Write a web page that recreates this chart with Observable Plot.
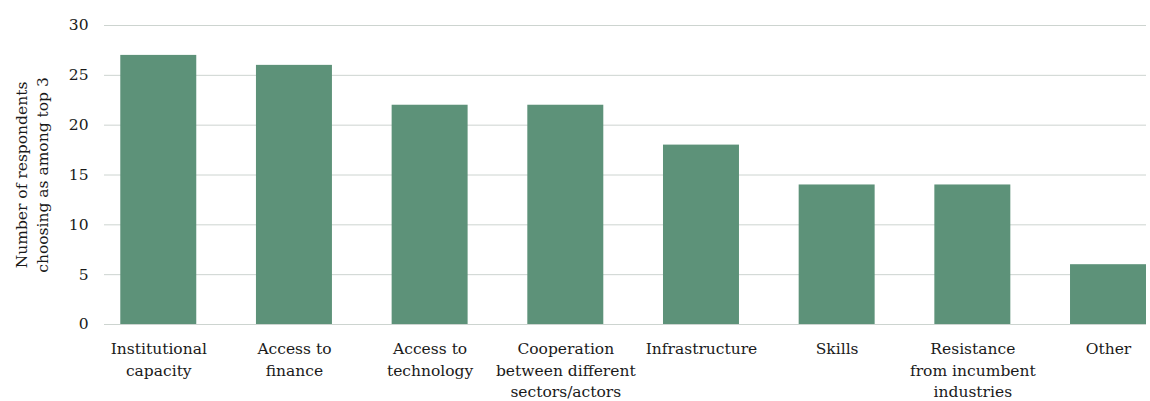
<!DOCTYPE html>
<html>
<head>
<meta charset="utf-8">
<script src="https://cdn.jsdelivr.net/npm/d3@7"></script>
<script src="https://cdn.jsdelivr.net/npm/@observablehq/plot@0.6"></script>
<style>
  html, body { margin: 0; padding: 0; background: #fff; }
  #chart svg { display: block; }
</style>
</head>
<body>
<div id="chart"></div>
<script>
const categories = [
  "Institutional capacity",
  "Access to finance",
  "Access to technology",
  "Cooperation between different sectors/actors",
  "Infrastructure",
  "Skills",
  "Resistance from incumbent industries",
  "Other"
];
const tickLabels = [
  "Institutional\ncapacity",
  "Access to\nfinance",
  "Access to\ntechnology",
  "Cooperation\nbetween different\nsectors/actors",
  "Infrastructure",
  "Skills",
  "Resistance\nfrom incumbent\nindustries",
  "Other"
];
const values = [27, 26, 22, 22, 18, 14, 14, 6];
const yTicks = [0, 5, 10, 15, 20, 25, 30];
const yLabel = "Number of respondents\nchoosing as among top 3";

const data = categories.map((c, i) => ({category: c, value: values[i]}));
const labelOf = new Map(categories.map((c, i) => [c, tickLabels[i]]));

const font = "'DejaVu Serif', serif";

const chart = Plot.plot({
  width: 1150,
  height: 401,
  marginTop: 25,
  marginBottom: 77,
  marginLeft: 104,
  marginRight: 4,
  style: {fontFamily: font, fontSize: "15px", color: "#1a1a1a", background: "#fff"},
  x: {domain: categories, paddingInner: 0.44, paddingOuter: 0.06, align: 1, round: false},
  y: {domain: [0, 30]},
  marks: [
    Plot.ruleY(yTicks, {stroke: "#cdd4d0", strokeWidth: 1}),
    Plot.barY(data, {x: "category", y: "value", fill: "#5d9279"}),
    Plot.axisY({ticks: yTicks, tickSize: 0, tickPadding: 16, label: null, fontSize: 15.5, fill: "#1a1a1a"}),
    Plot.axisX({tickSize: 0, tickPadding: 14, label: null, tickFormat: d => labelOf.get(d), lineHeight: 1.4, fontSize: 15.5, fill: "#1a1a1a", textOverflow: null}),
    Plot.text([yLabel], {frameAnchor: "left", textAnchor: "middle", lineAnchor: "middle", dx: -74, rotate: -90, text: d => d, fontSize: 15.5, lineHeight: 1.4, fill: "#1a1a1a"})
  ]
});
document.getElementById("chart").appendChild(chart);
</script>
</body>
</html>
